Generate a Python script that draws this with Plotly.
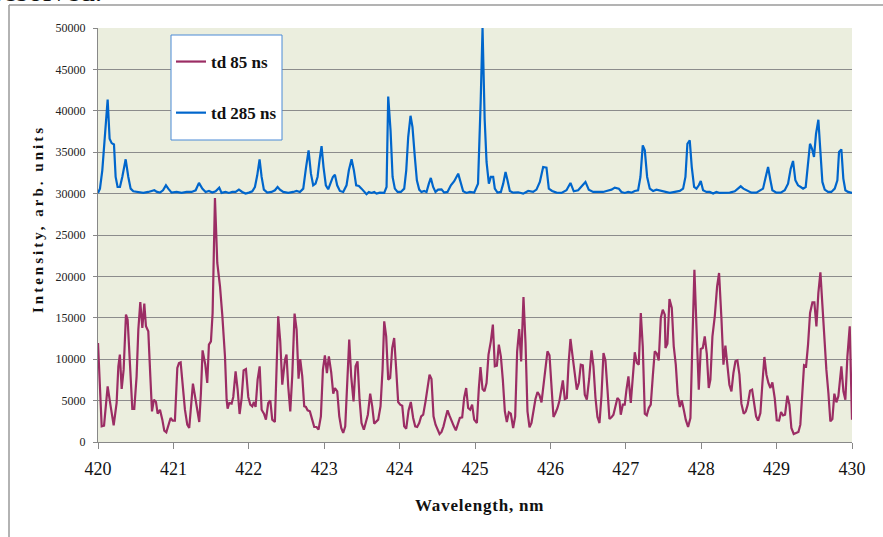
import plotly.graph_objects as go

# ---- emission spectra: wavelength (nm) and intensity (arb. units) ----
wl_85 = [
    420.000, 420.049, 420.080, 420.128, 420.168, 420.208, 420.247, 420.270, 420.290, 420.314,
    420.340, 420.371, 420.393, 420.424, 420.455, 420.481, 420.512, 420.535, 420.561, 420.588,
    420.614, 420.636, 420.667, 420.694, 420.716, 420.742, 420.769, 420.791, 420.822, 420.853,
    420.879, 420.906, 420.932, 420.963, 420.990, 421.020, 421.052, 421.074, 421.096, 421.122,
    421.153, 421.184, 421.210, 421.259, 421.286, 421.317, 421.343, 421.365, 421.387, 421.423,
    421.449, 421.471, 421.498, 421.520, 421.551, 421.582, 421.618, 421.648, 421.684, 421.706,
    421.719, 421.741, 421.772, 421.794, 421.825, 421.852, 421.878, 421.905, 421.931, 421.962,
    421.993, 422.020, 422.046, 422.068, 422.090, 422.117, 422.144, 422.170, 422.201, 422.227,
    422.258, 422.285, 422.311, 422.346, 422.368, 422.390, 422.417, 422.444, 422.480, 422.500,
    422.523, 422.550, 422.576, 422.607, 422.634, 422.660, 422.682, 422.709, 422.735, 422.757,
    422.780, 422.810, 422.841, 422.868, 422.899, 422.925, 422.956, 422.983, 423.009, 423.036,
    423.062, 423.093, 423.120, 423.142, 423.173, 423.200, 423.226, 423.252, 423.279, 423.305,
    423.332, 423.358, 423.389, 423.416, 423.442, 423.469, 423.495, 423.526, 423.553, 423.579,
    423.610, 423.637, 423.663, 423.690, 423.716, 423.747, 423.774, 423.796, 423.822, 423.849,
    423.875, 423.902, 423.928, 423.955, 423.981, 424.008, 424.035, 424.061, 424.088, 424.119,
    424.149, 424.180, 424.207, 424.233, 424.260, 424.286, 424.313, 424.344, 424.370, 424.397,
    424.423, 424.450, 424.477, 424.503, 424.530, 424.556, 424.582, 424.609, 424.636, 424.662,
    424.689, 424.720, 424.746, 424.772, 424.799, 424.830, 424.856, 424.883, 424.909, 424.936,
    424.962, 424.989, 425.025, 425.051, 425.073, 425.100, 425.126, 425.153, 425.179, 425.210,
    425.237, 425.263, 425.290, 425.316, 425.343, 425.369, 425.396, 425.422, 425.449, 425.475,
    425.506, 425.533, 425.559, 425.586, 425.612, 425.643, 425.670, 425.696, 425.723, 425.749,
    425.776, 425.802, 425.829, 425.855, 425.882, 425.908, 425.935, 425.961, 425.988, 426.014,
    426.041, 426.067, 426.094, 426.120, 426.138, 426.165, 426.191, 426.218, 426.240, 426.266,
    426.297, 426.324, 426.350, 426.377, 426.403, 426.430, 426.456, 426.483, 426.514, 426.545,
    426.571, 426.598, 426.624, 426.651, 426.677, 426.704, 426.730, 426.757, 426.783, 426.810,
    426.836, 426.863, 426.889, 426.916, 426.933, 426.960, 426.986, 427.009, 427.035, 427.066,
    427.093, 427.119, 427.146, 427.172, 427.199, 427.225, 427.252, 427.278, 427.305, 427.331,
    427.358, 427.384, 427.411, 427.437, 427.464, 427.490, 427.517, 427.526, 427.552, 427.579,
    427.610, 427.636, 427.663, 427.689, 427.716, 427.742, 427.769, 427.795, 427.826, 427.857,
    427.884, 427.910, 427.937, 427.968, 427.994, 428.021, 428.047, 428.074, 428.100, 428.122,
    428.149, 428.180, 428.211, 428.237, 428.268, 428.295, 428.321, 428.348, 428.374, 428.401,
    428.427, 428.454, 428.480, 428.507, 428.533, 428.564, 428.591, 428.617, 428.648, 428.675,
    428.701, 428.728, 428.754, 428.785, 428.812, 428.838, 428.865, 428.891, 428.918, 428.944,
    428.975, 429.002, 429.033, 429.059, 429.086, 429.112, 429.143, 429.170, 429.196, 429.227,
    429.258, 429.289, 429.315, 429.342, 429.364, 429.391, 429.417, 429.444, 429.475, 429.501,
    429.528, 429.554, 429.581, 429.607, 429.634, 429.660, 429.687, 429.713, 429.740, 429.766,
    429.793, 429.819, 429.859, 429.886, 429.912, 429.939, 429.970, 429.992, 430.000,
]
int_85 = [
    11960, 1890, 1970, 6720, 4310, 2010, 4710, 9140, 10550, 6400,
    8740, 15380, 14780, 9540, 3990, 3990, 7930, 13570, 16910, 13770,
    16710, 13970, 13370, 7930, 3700, 5110, 4830, 3420, 3900, 2700,
    1370, 1170, 1890, 2900, 2580, 2580, 8940, 9540, 9620, 6720,
    3900, 2090, 1690, 7050, 5720, 3700, 2420, 5920, 11070, 9340,
    7130, 11760, 12160, 15580, 29470, 21620, 18800, 15380, 10350, 5110,
    4030, 4710, 4630, 5440, 8540, 6320, 3380, 5310, 8660, 8820,
    5440, 4510, 4310, 4830, 4230, 7530, 9140, 3900, 3420, 2700,
    4710, 5030, 2700, 2420, 7930, 15180, 12160, 6920, 9940, 10550,
    6720, 3700, 7930, 15500, 13570, 7650, 10020, 7930, 4310, 4230,
    3820, 3700, 2700, 1810, 1810, 1490, 3100, 8740, 10470, 8330,
    10350, 8410, 5840, 6520, 6120, 3100, 1690, 1090, 1890, 6720,
    12360, 7930, 4910, 9140, 9740, 5110, 2290, 1490, 2290, 3300,
    5840, 4310, 2210, 2500, 2700, 4310, 8740, 14570, 12760, 7530,
    7730, 11350, 12560, 8740, 4830, 4510, 4390, 1890, 1610, 3820,
    4830, 2900, 1890, 1810, 2290, 3100, 3300, 4910, 6720, 8130,
    7610, 3100, 2090, 1410, 970, 1210, 1890, 2900, 3820, 3180,
    2500, 1890, 1410, 2090, 2900, 2980, 5310, 6520, 4110, 3900,
    4510, 2700, 2290, 6520, 9060, 6400, 6120, 7130, 10550, 12160,
    14170, 9140, 9220, 11760, 10350, 7530, 3700, 2420, 3580, 3420,
    1690, 3100, 10950, 13650, 9740, 17510, 11960, 3700, 1770, 2290,
    4030, 5190, 6040, 5640, 4790, 6920, 9540, 10950, 10470, 6320,
    3020, 3500, 4110, 4990, 6120, 7450, 5190, 5310, 9340, 12440,
    10150, 8130, 6320, 7130, 9340, 9260, 5720, 5110, 7610, 11070,
    9140, 5310, 3020, 2290, 5520, 10750, 9860, 6320, 2780, 2980,
    3300, 4310, 5310, 5030, 3300, 4510, 4510, 6320, 7930, 4710,
    8540, 10830, 9540, 9340, 15580, 11550, 3420, 3220, 4110, 4510,
    7930, 10950, 10670, 9860, 14980, 15980, 15380, 11350, 11880, 17270,
    16180, 11550, 9340, 5720, 4230, 5030, 3900, 2700, 1810, 2900,
    12360, 20810, 13970, 6320, 11230, 11350, 12760, 10670, 6520, 7530,
    12760, 15180, 18800, 20410, 14980, 9340, 11640, 9140, 6920, 6120,
    8330, 9740, 9860, 8130, 4630, 3420, 3700, 4510, 6200, 6320,
    4510, 3100, 2580, 3500, 7130, 10270, 8130, 7130, 6520, 7210,
    5310, 2620, 2580, 3620, 3220, 3300, 5600, 4510, 1690, 970,
    1090, 1210, 2090, 5920, 9260, 9140, 11760, 15580, 16870, 16870,
    13970, 18000, 20490, 16590, 11960, 8740, 5920, 2500, 2780, 5840,
    4790, 5520, 9140, 6120, 5110, 10350, 13970, 7130, 2700,
]

wl_285 = [
    420.000, 420.026, 420.057, 420.093, 420.128, 420.154, 420.181, 420.212, 420.234, 420.260,
    420.291, 420.322, 420.367, 420.402, 420.433, 420.468, 420.534, 420.601, 420.667, 420.711,
    420.747, 420.782, 420.822, 420.862, 420.901, 420.932, 420.976, 421.043, 421.109, 421.175,
    421.242, 421.295, 421.339, 421.383, 421.427, 421.471, 421.516, 421.560, 421.608, 421.639,
    421.692, 421.736, 421.781, 421.825, 421.869, 421.913, 421.957, 422.002, 422.046, 422.081,
    422.112, 422.143, 422.170, 422.200, 422.245, 422.302, 422.346, 422.382, 422.413, 422.457,
    422.523, 422.589, 422.634, 422.678, 422.722, 422.757, 422.793, 422.824, 422.854, 422.885,
    422.912, 422.938, 422.965, 422.991, 423.022, 423.053, 423.084, 423.115, 423.142, 423.172,
    423.208, 423.252, 423.296, 423.327, 423.363, 423.394, 423.424, 423.460, 423.495, 423.530,
    423.561, 423.592, 423.628, 423.663, 423.694, 423.738, 423.796, 423.827, 423.849, 423.880,
    423.907, 423.937, 423.973, 424.017, 424.061, 424.088, 424.114, 424.145, 424.171, 424.202,
    424.229, 424.260, 424.290, 424.326, 424.357, 424.388, 424.414, 424.445, 424.476, 424.511,
    424.556, 424.591, 424.635, 424.680, 424.724, 424.777, 424.812, 424.843, 424.887, 424.931,
    424.989, 425.040, 425.075, 425.100, 425.128, 425.153, 425.184, 425.210, 425.241, 425.263,
    425.298, 425.343, 425.374, 425.405, 425.431, 425.462, 425.506, 425.572, 425.639, 425.705,
    425.771, 425.815, 425.860, 425.904, 425.948, 425.979, 426.023, 426.081, 426.147, 426.213,
    426.266, 426.310, 426.368, 426.412, 426.465, 426.509, 426.567, 426.633, 426.699, 426.744,
    426.810, 426.854, 426.907, 426.942, 426.987, 427.031, 427.075, 427.119, 427.163, 427.194,
    427.225, 427.252, 427.283, 427.318, 427.362, 427.406, 427.450, 427.517, 427.583, 427.650,
    427.716, 427.760, 427.791, 427.817, 427.848, 427.875, 427.906, 427.937, 427.968, 427.994,
    428.025, 428.069, 428.113, 428.158, 428.202, 428.246, 428.312, 428.379, 428.445, 428.489,
    428.524, 428.560, 428.600, 428.666, 428.732, 428.776, 428.820, 428.851, 428.887, 428.918,
    428.944, 428.997, 429.055, 429.108, 429.152, 429.187, 429.218, 429.249, 429.284, 429.320,
    429.351, 429.386, 429.417, 429.443, 429.470, 429.496, 429.523, 429.554, 429.580, 429.607,
    429.638, 429.682, 429.726, 429.771, 429.806, 429.828, 429.859, 429.885, 429.912, 429.947,
    430.000,
]
int_285 = [
    30080, 30600, 32810, 37230, 41370, 36630, 36100, 35940, 32010, 30800,
    30800, 32010, 34140, 32010, 30600, 30280, 30200, 30080, 30200, 30320,
    30400, 30200, 30120, 30400, 31000, 30600, 30120, 30200, 30080, 30200,
    30200, 30400, 31290, 30600, 30200, 30320, 30120, 30280, 30720, 30080,
    30200, 30080, 30200, 30200, 30480, 30200, 30000, 30120, 30280, 30800,
    32210, 34140, 32010, 30480, 30120, 30200, 30400, 30800, 30480, 30200,
    30080, 30200, 30320, 30200, 30600, 33010, 35220, 32410, 31000, 31200,
    32010, 34020, 35740, 33210, 31000, 30520, 31200, 32010, 32290, 31000,
    30320, 30200, 31000, 32810, 34140, 32810, 31000, 30920, 30600, 30200,
    29920, 30200, 30080, 30200, 30000, 30120, 30080, 30800, 41730, 37630,
    32010, 30600, 30200, 30200, 30600, 32810, 36830, 39400, 38030, 34420,
    31610, 30480, 30200, 30320, 30200, 31200, 31890, 30800, 30200, 30480,
    30520, 30120, 30200, 31000, 31490, 32410, 31200, 30280, 30080, 30200,
    30120, 31200, 41000, 50000, 39000, 33820, 31200, 32010, 32010, 30600,
    30120, 30200, 31200, 32610, 31610, 30320, 30120, 30160, 30000, 30320,
    30200, 30480, 31410, 33210, 33130, 30600, 30320, 30120, 30080, 30400,
    31290, 30280, 30400, 30800, 31410, 30480, 30200, 30200, 30200, 30320,
    30480, 30720, 30600, 30200, 30080, 30200, 30120, 30320, 30400, 32010,
    35820, 35220, 32010, 30600, 30320, 30480, 30400, 30280, 30080, 30200,
    30320, 30600, 32010, 36020, 36430, 33210, 30800, 30600, 31000, 31530,
    30400, 30200, 30200, 30000, 30200, 30080, 30120, 30120, 30280, 30600,
    30880, 30600, 30400, 30120, 30120, 30320, 30600, 31810, 33210, 31610,
    30400, 30120, 30120, 30400, 31200, 33010, 33940, 31610, 31000, 30800,
    30600, 30800, 34020, 36020, 35420, 34420, 37230, 38920, 35220, 31410,
    30480, 30200, 30200, 30600, 31610, 35020, 35340, 31810, 30400, 30200,
    30080,
]

x_ticks = [420, 421, 422, 423, 424, 425, 426, 427, 428, 429, 430]
y_ticks = [0, 5000, 10000, 15000, 20000, 25000, 30000, 35000, 40000, 45000, 50000]

SERIF = "Liberation Serif, Times New Roman, serif"
PURPLE = "#9B2D64"
BLUE = "#0066CC"
GRID = "#8C8C8C"

# plot-area geometry in page pixels, used to place the decorations
L, R, T, B = 98, 852, 28, 442
W, H = R - L, B - T


def px(xp):
    return (xp - L) / W


def py(yp):
    return (B - yp) / H


fig = go.Figure()
fig.add_trace(go.Scatter(x=wl_85, y=int_85, mode="lines", name="td 85 ns",
                         legendgroup="a", line=dict(color=PURPLE, width=2.2)))
fig.add_trace(go.Scatter(x=wl_285, y=int_285, mode="lines", name="td 285 ns",
                         legendgroup="b", line=dict(color=BLUE, width=2.2)))

fig.update_layout(
    width=883, height=537,
    margin=dict(l=L, r=883 - R, t=T, b=537 - B, pad=0),
    paper_bgcolor="white",
    plot_bgcolor="#EBEEDE",
    font=dict(family=SERIF, color="#111"),
    showlegend=True,
    legend=dict(
        x=px(171), y=py(44), xanchor="left", yanchor="top",
        bgcolor="rgba(0,0,0,0)", borderwidth=0,
        font=dict(family=SERIF, size=17, weight="bold", color="#111"),
        itemwidth=30, tracegroupgap=26, traceorder="grouped",
    ),
    xaxis=dict(
        range=[420, 430], tickvals=x_ticks, ticks="outside", ticklen=6,
        tickcolor="#888", showline=True, linecolor="#888", linewidth=1,
        showgrid=False, zeroline=False,
        tickfont=dict(family=SERIF, size=18, color="#111"),
        ticklabelstandoff=4,
        showticklabels=True,
    ),
    yaxis=dict(
        range=[0, 50000], tickvals=y_ticks, tickformat="d", ticks="outside",
        ticklen=4, tickcolor="#888", showline=True, linecolor="#888", linewidth=1,
        showgrid=True, gridcolor=GRID, gridwidth=1, zeroline=False,
        tickfont=dict(family=SERIF, size=12, color="#222"),
        ticklabelstandoff=5,
    ),
)

# x-axis title, letter-spaced
fig.add_annotation(
    text='<span style="letter-spacing:0.8px">Wavelength, nm</span>',
    xref="paper", yref="paper", x=px(480), y=py(505),
    xanchor="center", yanchor="middle", showarrow=False,
    font=dict(family=SERIF, size=17, weight="bold", color="#111"),
)

# y-axis title, letter-spaced and set a little above the plot centre
fig.add_annotation(
    text='<span style="letter-spacing:3px">Intensity, arb. units</span>',
    xref="paper", yref="paper", x=px(38), y=py(219),
    xanchor="center", yanchor="middle", textangle=-90, showarrow=False,
    font=dict(family=SERIF, size=15, weight="bold", color="#111"),
)

# legend frame
fig.add_shape(type="rect", xref="paper", yref="paper",
              x0=px(171), x1=px(282), y0=py(140), y1=py(35),
              fillcolor="white", line=dict(color="#4A8AD6", width=1), layer="above")

# outer chart frame (top and left edges)
frame = dict(color="#9A9A9A", width=1.5)
fig.add_shape(type="line", xref="paper", yref="paper",
              x0=px(9), x1=px(890), y0=py(5), y1=py(5), line=frame)
fig.add_shape(type="line", xref="paper", yref="paper",
              x0=px(9), x1=px(9), y0=py(5), y1=py(540), line=frame)

# end of the caption line from the text above the chart
fig.add_annotation(text="resolved.", xref="paper", yref="paper",
                   x=px(104), y=py(8.5),
                   xanchor="right", yanchor="bottom", showarrow=False,
                   font=dict(family=SERIF, size=30, color="#111"))

fig.write_html("out.html")
